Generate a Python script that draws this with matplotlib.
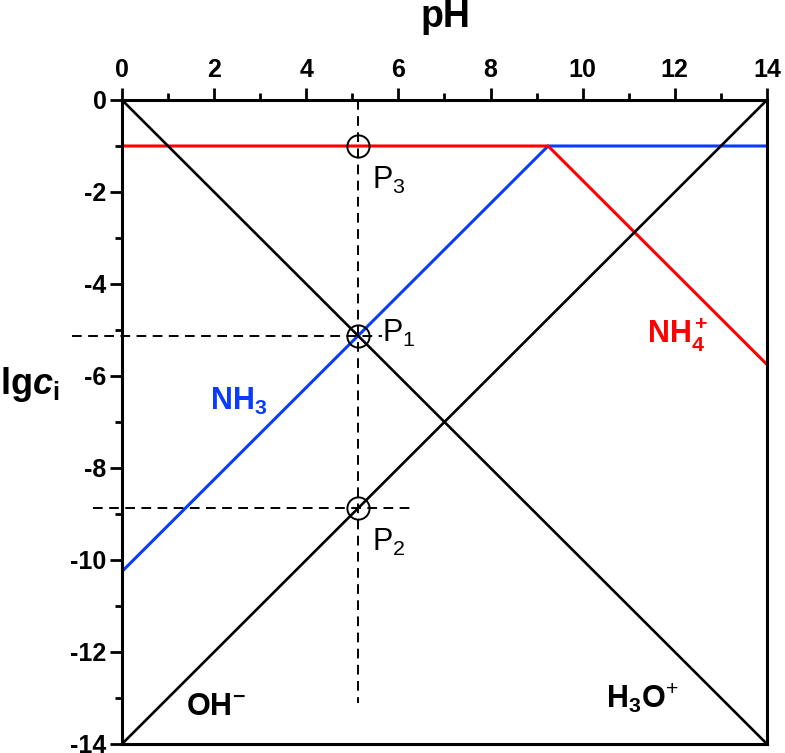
import matplotlib
matplotlib.use('Agg')
import numpy as np
from matplotlib import pyplot as plt
from matplotlib.ticker import MultipleLocator

plt.rcParams['font.family'] = ['Liberation Sans', 'DejaVu Sans']
plt.rcParams['mathtext.fontset'] = 'custom'
plt.rcParams['mathtext.rm'] = 'Liberation Sans'
plt.rcParams['mathtext.it'] = 'Liberation Sans:italic'
plt.rcParams['mathtext.bf'] = 'Liberation Sans:bold'
plt.rcParams['mathtext.bfit'] = 'Liberation Sans:italic:bold'
plt.rcParams['axes.unicode_minus'] = False

# Data: lg c vs pH for NH4+/NH3 system (c = 0.1, pKa = 9.25)
ph_nh = [0, 9.25, 14]
lg_nh4 = [-1, -1, -5.75]
lg_nh3 = [-10.25, -1, -1]
ph_w = [0, 14]
lg_h3o = [0, -14]
lg_oh = [-14, 0]

# special points P1, P2, P3
p_ph = [5.125, 5.125, 5.125]
p_lg = [-5.125, -8.875, -1.0]
p_names = ['P$_1$', 'P$_2$', 'P$_3$']

# dashed guide lines
guide_v_ph = [5.125, 5.125]
guide_v_lg = [0, -13.1]
guide_h1_ph = [-1.09, 5.65]
guide_h1_lg = [-5.125, -5.125]
guide_h2_ph = [-0.63, 6.25]
guide_h2_lg = [-8.875, -8.875]

red = '#ff0000'
blue = '#0a3cff'

fig = plt.figure(figsize=(7.85, 7.53), dpi=100)
ax = fig.add_axes([0.1554, 0.012, 0.8216, 0.8552])

ax.plot(ph_w, lg_h3o, color='black', lw=1.9, zorder=3)
ax.plot(ph_w, lg_oh, color='black', lw=1.9, zorder=3)
ax.plot(ph_nh, lg_nh3, color=blue, lw=2.2, zorder=2)
ax.plot(ph_nh, lg_nh4, color=red, lw=2.2, zorder=2)

dash = dict(color='black', lw=1.4, ls=(0, (5, 3.3)), clip_on=False, zorder=4)
ax.plot(guide_v_ph, guide_v_lg, **dash)
ax.plot(guide_h1_ph, guide_h1_lg, **dash)
ax.plot(guide_h2_ph, guide_h2_lg, **dash)

ax.plot(p_ph, p_lg, 'o', ms=16, mfc='none', mec='black', mew=1.4, zorder=5)
for x, y, name in zip(p_ph, p_lg, p_names):
    if name == 'P$_1$':
        ax.text(x + 0.52, y + 0.05, name, fontsize=22, ha='left', va='center')
    else:
        ax.text(x + 0.3, y - 0.75, name, fontsize=22, ha='left', va='center')

ax.text(1.9, -6.55, r'$\mathbf{NH_3}$', color=blue, fontsize=22, ha='left', va='center')
ax.text(11.4, -5.1, r'$\mathbf{NH_4^+}$', color=red, fontsize=22, ha='left', va='center')
ax.text(1.4, -13.2, r'$\mathbf{OH^{-}}$', fontsize=22, ha='left', va='center')
ax.text(10.5, -13.0, r'$\mathbf{H_3O}^{+}$', fontsize=22, ha='left', va='center')

ax.set_xlim(0, 14)
ax.set_ylim(-14, 0)
ax.xaxis.tick_top()
ax.xaxis.set_major_locator(MultipleLocator(2))
ax.xaxis.set_minor_locator(MultipleLocator(1))
ax.yaxis.set_major_locator(MultipleLocator(2))
ax.yaxis.set_minor_locator(MultipleLocator(1))
ax.tick_params(which='major', direction='out', length=9, width=2, labelsize=18, pad=2)
ax.tick_params(axis='x', which='major', pad=4)
ax.tick_params(which='minor', direction='out', length=5, width=2)
for lab in ax.get_xticklabels() + ax.get_yticklabels():
    lab.set_fontweight('bold')
for sp in ax.spines.values():
    sp.set_linewidth(2.2)

fig.text(0.567, 0.977, 'pH', fontsize=27, fontweight='bold', ha='center', va='center')
fig.text(0.0, 0.49, r'$\mathbf{lg}\mathbfit{c}_{\mathbf{i}}$', fontsize=26,
         ha='left', va='center')

fig.savefig('out.png', dpi=100)
